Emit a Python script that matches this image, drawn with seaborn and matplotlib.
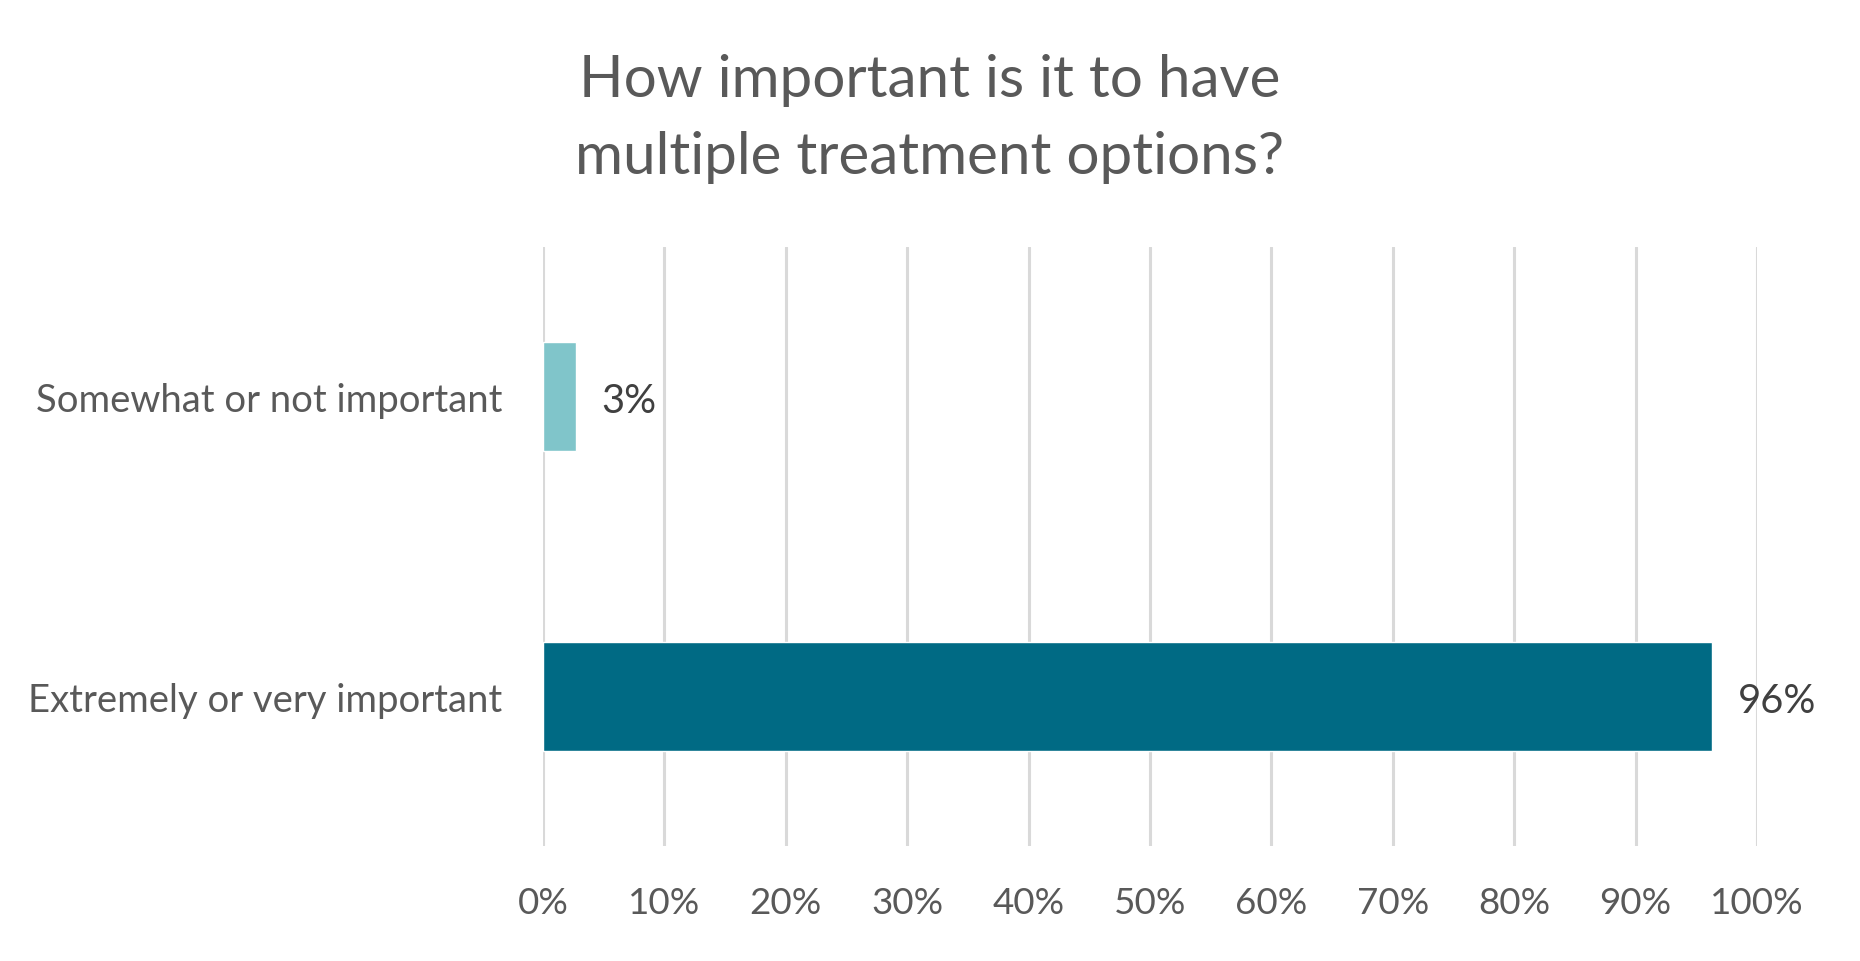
import matplotlib
matplotlib.use("Agg")
import matplotlib.pyplot as plt
import seaborn as sns
import pandas as pd
from matplotlib.ticker import FuncFormatter

# ---- data ----
categories = ["Somewhat or not important", "Extremely or very important"]
shares = [2.7, 96.3]
bar_colors = ["#80c5ca", "#006a84"]
xticks = list(range(0, 101, 10))
title = "How important is it to have\nmultiple treatment options?"

sns.set_theme(style="white")
plt.rcParams["font.family"] = ["Lato", "DejaVu Sans"]
txt = "#595959"

df = pd.DataFrame({"answer": categories, "share": shares})

fig = plt.figure(figsize=(18.6, 9.62), dpi=100)
ax = fig.add_axes([543 / 1860, 1 - 847 / 962, (1757 - 543) / 1860, (847 - 248) / 962])

sns.barplot(data=df, y="answer", x="share", hue="answer", palette=bar_colors,
            order=categories, hue_order=categories, legend=False,
            width=0.365, saturation=1, ax=ax, zorder=3)

ax.set_xlim(0, 100)
ax.set_ylim(1.5, -0.5)
ax.set_xticks(xticks)
ax.xaxis.set_major_formatter(FuncFormatter(lambda v, p: f"{v:.0f}%"))
ax.grid(axis="x", color="#d9d9d9", linewidth=2.2, zorder=0)
ax.grid(axis="y", visible=False)
for s in ax.spines.values():
    s.set_visible(False)
ax.tick_params(axis="x", length=0, pad=29, labelsize=26.5, labelcolor=txt)
ax.tick_params(axis="y", length=0, pad=29, labelsize=27.5, labelcolor=txt)
ax.set_xlabel("")
ax.set_ylabel("")

# value labels
for i, v in enumerate(shares):
    ax.annotate(f"{v:.0f}%", xy=(v, i), xytext=(26, -4), textcoords="offset pixels",
                ha="left", va="center", fontsize=28.8, color="#404040")

fig.text(0.5, 1 - 119 / 962, title, ha="center", va="center",
         fontsize=42, color=txt, linespacing=1.55)

fig.savefig("out.png", dpi=100, facecolor="white")
